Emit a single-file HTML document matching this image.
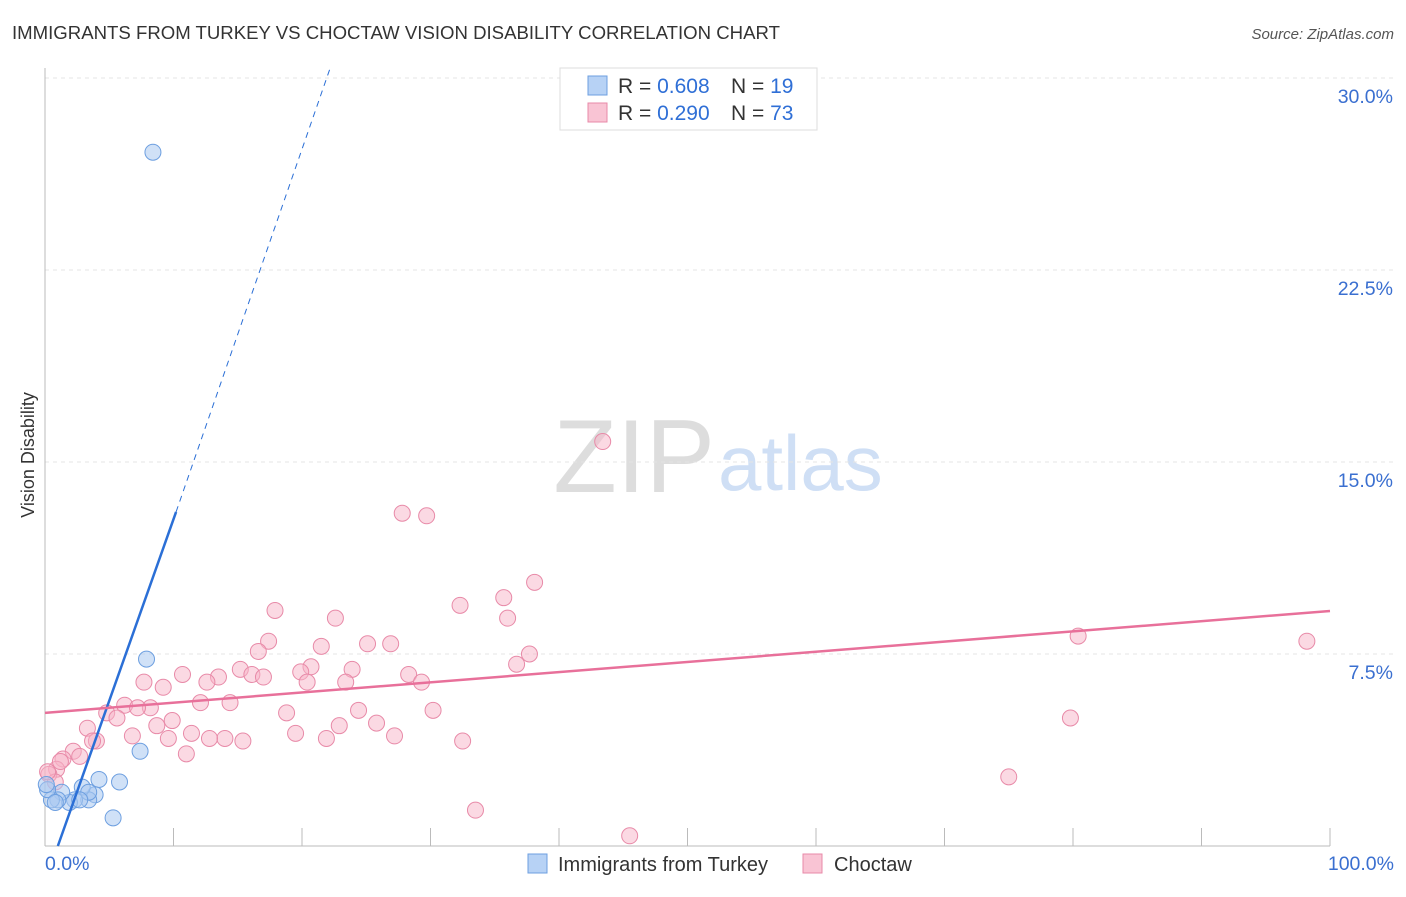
<!DOCTYPE html>
<html><head><meta charset="utf-8"><style>
body{margin:0;background:#fff;font-family:"Liberation Sans",sans-serif}
svg text{font-family:"Liberation Sans",sans-serif}
</style></head><body>
<svg id="c" width="1406" height="892">
<text x="12" y="39" font-size="18.6" fill="#333">IMMIGRANTS FROM TURKEY VS CHOCTAW VISION DISABILITY CORRELATION CHART</text>
<text x="1394" y="39" font-size="15" fill="#555" font-style="italic" text-anchor="end">Source: ZipAtlas.com</text>
<text x="34" y="455" font-size="18" fill="#333" transform="rotate(-90 34 455)" text-anchor="middle">Vision Disability</text>
<text x="715" y="492" font-size="104" fill="#ddd" text-anchor="end" font-family="Liberation Serif">ZIP</text>
<text x="718" y="490" font-size="78" fill="#cfdff5">atlas</text>
<g id="grid"></g><g id="pts"></g><g id="lines"></g>
<g>
<rect x="560" y="68" width="257" height="62" fill="#fff" stroke="#ddd"/>
<rect x="588" y="76" width="19" height="19" fill="#b7d2f5" stroke="#6d9fe0"/>
<text x="618" y="93" font-size="21" fill="#333">R = <tspan fill="#2f6fd6">0.608</tspan></text>
<text x="731" y="93" font-size="21" fill="#333">N = <tspan fill="#2f6fd6">19</tspan></text>
<rect x="588" y="103" width="19" height="19" fill="#f9c4d4" stroke="#e88aa8"/>
<text x="618" y="120" font-size="21" fill="#333">R = <tspan fill="#2f6fd6">0.290</tspan></text>
<text x="731" y="120" font-size="21" fill="#333">N = <tspan fill="#2f6fd6">73</tspan></text>
</g>
<g>
<rect x="528" y="854" width="19" height="19" fill="#b7d2f5" stroke="#6d9fe0"/>
<text x="558" y="871" font-size="20" fill="#333">Immigrants from Turkey</text>
<rect x="803" y="854" width="19" height="19" fill="#f9c4d4" stroke="#e88aa8"/>
<text x="834" y="871" font-size="20" fill="#333">Choctaw</text>
</g>
</svg>
<script>
const yTicks=[7.5,15,22.5,30];
const xTickLabels=["0.0%","100.0%"];
const blueX=[8.4,7.9,7.4,5.3,4.2,5.8,3.9,3.4,2.9,2.3,1.9,1.3,1.0,0.5,0.2,0.8,3.4,2.7,0.1];
const blueY=[27.1,7.3,3.7,1.1,2.6,2.5,2.0,1.8,2.3,1.8,1.7,2.1,1.8,1.8,2.2,1.7,2.1,1.8,2.4];
const pinkX=[43.4,27.8,29.7,38.1,32.3,35.7,17.9,22.6,36.0,80.4,98.2,17.4,26.9,25.1,21.5,16.6,37.7,36.7,15.2,16.1,17.0,20.7,19.9,23.9,28.3,10.7,13.5,7.7,12.6,9.2,23.4,20.4,29.3,12.1,14.4,6.2,8.2,4.8,7.2,5.6,18.8,24.4,30.2,79.8,9.9,8.7,25.8,22.9,3.3,11.4,19.5,6.8,4.0,14.0,12.8,15.4,21.9,27.2,32.5,9.6,3.7,2.2,11.0,2.7,1.4,0.9,0.3,0.8,75.0,33.5,45.5,0.2,1.2];
const pinkY=[15.8,13.0,12.9,10.3,9.4,9.7,9.2,8.9,8.9,8.2,8.0,8.0,7.9,7.9,7.8,7.6,7.5,7.1,6.9,6.7,6.6,7.0,6.8,6.9,6.7,6.7,6.6,6.4,6.4,6.2,6.4,6.4,6.4,5.6,5.6,5.5,5.4,5.2,5.4,5.0,5.2,5.3,5.3,5.0,4.9,4.7,4.8,4.7,4.6,4.4,4.4,4.3,4.1,4.2,4.2,4.1,4.2,4.3,4.1,4.2,4.1,3.7,3.6,3.5,3.4,3.0,2.8,2.5,2.7,1.4,0.4,2.9,3.3];
const blueLine=[1.0,0.0,10.2,13.05,22.2,30.4];
const pinkLine=[0,5.2,100,9.18];
const X=v=>45+v*12.85, Y=v=>846-v*25.6;
const NS="http://www.w3.org/2000/svg";
function mk(p,t,a){const e=document.createElementNS(NS,t);for(const k in a)e.setAttribute(k,a[k]);p.appendChild(e);return e;}
const g=document.getElementById('grid');
for(const t of yTicks){
 const l=mk(g,'line',{x1:45,x2:1394,y1:Y(t),y2:Y(t),stroke:'#e4e4e4','stroke-dasharray':'4 4'});
 
 
 const tx=mk(g,'text',{x:1393,y:Y(t)+25,'font-size':19.5,fill:'#3a6fd0','text-anchor':'end'});tx.textContent=t.toFixed(1)+'%';
 
 
}
mk(g,'line',{x1:45,x2:45,y1:68,y2:846,stroke:'#bbb'});
mk(g,'line',{x1:45,x2:1330,y1:846,y2:846,stroke:'#bbb'});
for(let i=0;i<=10;i++){const t=mk(g,'line',{x1:X(i*10),x2:X(i*10),y1:828,y2:846,stroke:'#bbb'});
 
 }
[[0,'start',45],[1,'end',1394]].forEach(([i,a,x])=>{const t=mk(g,'text',{x:x,y:870,'font-size':19.5,fill:'#3a6fd0','text-anchor':a});t.textContent=xTickLabels[i];
 
 });
const p=document.getElementById('pts');
pinkX.forEach((v,i)=>{const c=mk(p,'circle',{cx:X(v),cy:Y(pinkY[i]),r:8,fill:'#f7b3c8','fill-opacity':0.5,stroke:'#e88aa8','stroke-width':1});
 
 });
blueX.forEach((v,i)=>{const c=mk(p,'circle',{cx:X(v),cy:Y(blueY[i]),r:8,fill:'#a9c8f0','fill-opacity':0.55,stroke:'#6d9fe0','stroke-width':1});
 
 });
const L=document.getElementById('lines');
const b1=mk(L,'line',{x1:X(blueLine[0]),y1:Y(blueLine[1]),x2:X(blueLine[2]),y2:Y(blueLine[3]),stroke:'#2b6fd6','stroke-width':2.5});


const b2=mk(L,'line',{x1:X(blueLine[2]),y1:Y(blueLine[3]),x2:X(blueLine[4]),y2:Y(blueLine[5]),stroke:'#2b6fd6','stroke-width':1,'stroke-dasharray':'6 5'});


const pl=mk(L,'line',{x1:X(pinkLine[0]),y1:Y(pinkLine[1]),x2:X(pinkLine[2]),y2:Y(pinkLine[3]),stroke:'#e8709a','stroke-width':2.5});


</script>
</body></html>
